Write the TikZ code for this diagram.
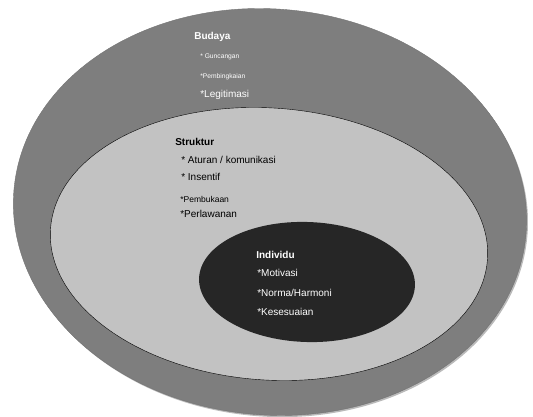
\documentclass[tikz,border=0pt]{standalone}
\usepackage{fontspec}
\setmainfont{Liberation Sans}
\usepackage{tikz}
\usetikzlibrary{positioning}
\definecolor{budayagray}{RGB}{126,126,126}
\definecolor{strukturgray}{RGB}{194,194,194}
\definecolor{individugray}{RGB}{38,38,38}

\begin{document}
\begin{tikzpicture}[x=1pt,y=-1pt,semithick,
  lbl/.style={anchor=west,inner sep=0pt,font=\fontsize{10}{12}\selectfont},
  head/.style={lbl,font=\fontsize{10}{12}\selectfont\bfseries},
  tiny/.style={lbl,font=\fontsize{6.7}{8}\selectfont},
  small/.style={lbl,font=\fontsize{8.5}{10}\selectfont}]
\useasboundingbox (0,0) rectangle (533,417);
\coordinate (B) at (270,212);
\coordinate (S) at (269,244);
\coordinate (I) at (307,282);
% soft shadow and rings
\fill[black!45,opacity=.6,rotate around={-5:(B)}] ([shift={(1.5,1.5)}]B) ellipse [x radius=257pt,y radius=203pt];
\filldraw[fill=budayagray,draw=black!55,thin,rotate around={-5:(B)}] (B) ellipse [x radius=257pt,y radius=203pt];
\filldraw[fill=strukturgray,draw=black,thin,rotate around={-4:(S)}] (S) ellipse [x radius=219pt,y radius=136pt];
\fill[individugray,rotate around={-2:(I)}] (I) ellipse [x radius=108pt,y radius=60pt];
% Budaya
\node[head,white] (budaya) at (194,37) {Budaya};
\node[tiny,white] (guncang) at (200,57) {* Guncangan};
\node[tiny,white] (bingkai) at (200,77) {*Pembingkaian};
\node[lbl,white] (legit) at (200,95) {*Legitimasi};
% Struktur
\node[head] (struktur) at (175,142) {Struktur};
\node[lbl] (aturan) at (181,160) {* Aturan / komunikasi};
\node[lbl] (insentif) at (181,177) {* Insentif};
\node[small] (buka) at (180,199) {*Pembukaan};
\node[lbl] (lawan) at (180,214) {*Perlawanan};
% Individu
\node[head,white] (individu) at (256,255) {Individu};
\node[lbl,white] (motiv) at (257,273) {*Motivasi};
\node[lbl,white] (norma) at (257,293) {*Norma/Harmoni};
\node[lbl,white] (sesuai) at (257,312) {*Kesesuaian};
\end{tikzpicture}
\end{document}
